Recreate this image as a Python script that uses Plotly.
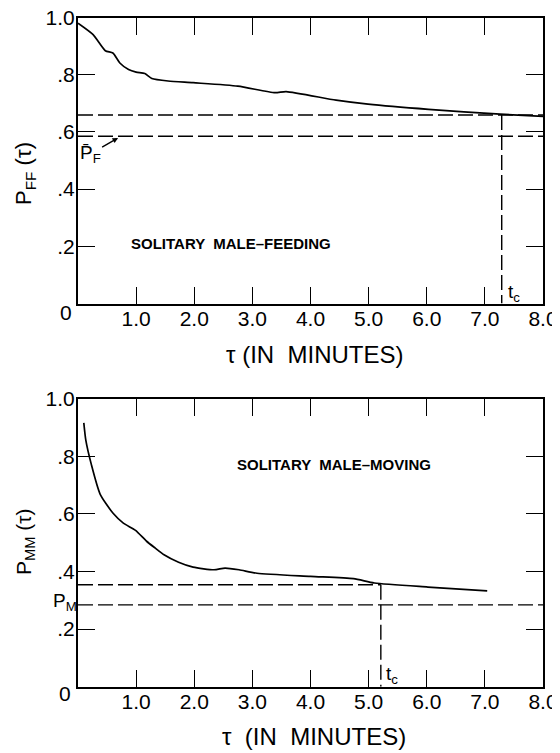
import plotly.graph_objects as go

# ---- data: top panel (solitary male - feeding) ----
ff_tau = [0.0, 0.26, 0.47, 0.6, 0.72, 0.87, 1.0, 1.15, 1.27, 1.55, 1.98, 2.75, 3.39, 3.58, 4.44, 4.99, 6.03, 7.26, 8.0]
ff_p = [0.98, 0.94, 0.884, 0.876, 0.841, 0.818, 0.809, 0.804, 0.787, 0.778, 0.772, 0.760, 0.737, 0.741, 0.711, 0.697, 0.679, 0.662, 0.654]
ff_level_tc = 0.659
ff_level_pbar = 0.585
ff_tc = 7.29

# ---- data: bottom panel (solitary male - moving) ----
mm_tau = [0.10, 0.135, 0.23, 0.38, 0.6, 0.78, 0.99, 1.18, 1.33, 1.48, 1.73, 1.98, 2.34, 2.53, 2.77, 3.08, 4.0, 4.74, 5.1, 6.02, 7.04]
mm_p = [0.916, 0.855, 0.771, 0.669, 0.603, 0.568, 0.543, 0.505, 0.481, 0.458, 0.432, 0.415, 0.406, 0.412, 0.406, 0.394, 0.383, 0.375, 0.360, 0.346, 0.333]
mm_level_tc = 0.354
mm_level_pbar = 0.284
mm_tc = 5.21

x_ticks = [1, 2, 3, 4, 5, 6, 7, 8]
x_labels = ["1.0", "2.0", "3.0", "4.0", "5.0", "6.0", "7.0", "8.0"]
y_ticks = [0.2, 0.4, 0.6, 0.8, 1.0]
y_labels = [".2", ".4", ".6", ".8", "1.0"]

OFF = 8  # default page body margin
W, H = 560 - OFF, 753 - OFF
FONT = "Liberation Sans"
DASH = "15px,5px"

def px_x(p):
    return (p - OFF) / W

def px_y(p):
    return 1 - (p - OFF) / H

fig = go.Figure()

CURVE = dict(color="black", width=1.7, shape="spline", smoothing=0.6)
DLINE = dict(color="black", width=1.4, dash=DASH)

# top panel
fig.add_trace(go.Scatter(x=ff_tau, y=ff_p, mode="lines", line=CURVE, xaxis="x", yaxis="y"))
fig.add_trace(go.Scatter(x=[0, 8], y=[ff_level_tc, ff_level_tc], mode="lines", line=DLINE, xaxis="x", yaxis="y"))
fig.add_trace(go.Scatter(x=[0, 8], y=[ff_level_pbar, ff_level_pbar], mode="lines", line=DLINE, xaxis="x", yaxis="y"))
fig.add_trace(go.Scatter(x=[ff_tc, ff_tc], y=[ff_level_tc, 0], mode="lines", line=DLINE, xaxis="x", yaxis="y"))

# bottom panel
fig.add_trace(go.Scatter(x=mm_tau, y=mm_p, mode="lines", line=CURVE, xaxis="x2", yaxis="y2"))
fig.add_trace(go.Scatter(x=[0, mm_tc], y=[mm_level_tc, mm_level_tc], mode="lines", line=DLINE, xaxis="x2", yaxis="y2"))
fig.add_trace(go.Scatter(x=[0, 8], y=[mm_level_pbar, mm_level_pbar], mode="lines", line=DLINE, xaxis="x2", yaxis="y2"))
fig.add_trace(go.Scatter(x=[mm_tc, mm_tc], y=[mm_level_tc, 0], mode="lines", line=DLINE, xaxis="x2", yaxis="y2"))

xdom = [px_x(78), px_x(543)]
common_x = dict(range=[0, 8], tickvals=x_ticks, ticktext=x_labels, ticks="inside", ticklen=17,
                tickwidth=1.4, tickcolor="black", showline=True, linecolor="black", linewidth=2,
                mirror="ticks", showgrid=False, zeroline=False, domain=xdom, automargin=False,
                ticklabelstandoff=-5, ticklabeloverflow="allow",
                tickfont=dict(family=FONT, size=21, color="black"))
common_y = dict(range=[0, 1.0], tickvals=y_ticks, ticktext=y_labels, ticks="inside", ticklen=17,
                tickwidth=1.4, tickcolor="black", showline=True, linecolor="black", linewidth=2,
                mirror="ticks", showgrid=False, zeroline=False, automargin=False,
                ticklabelstandoff=-3, ticklabeloverflow="allow",
                tickfont=dict(family=FONT, size=21, color="black"))

fig.update_layout(
    width=W, height=H, margin=dict(l=0, r=0, t=0, b=0, autoexpand=False),
    paper_bgcolor="white", plot_bgcolor="white", showlegend=False,
    xaxis=dict(common_x, anchor="y"),
    yaxis=dict(common_y, anchor="x", domain=[px_y(303.5), px_y(17.5)]),
    xaxis2=dict(common_x, anchor="y2"),
    yaxis2=dict(common_y, anchor="x2", domain=[px_y(686.7), px_y(398.7)]),
)

ann = []
tf = dict(family=FONT, size=21, color="black")
C = dict(xanchor="center", yanchor="middle")
# origin zeros
ann.append(dict(x=px_x(66), y=px_y(312), xref="paper", yref="paper", text="0", showarrow=False, font=tf, **C))
ann.append(dict(x=px_x(65), y=px_y(693), xref="paper", yref="paper", text="0", showarrow=False, font=tf, **C))
# x titles
ann.append(dict(x=px_x(314), y=px_y(354), xref="paper", yref="paper", text="τ (IN  MINUTES)", showarrow=False, font=dict(family=FONT, size=24, color="black"), **C))
ann.append(dict(x=px_x(314), y=px_y(736), xref="paper", yref="paper", text="τ  (IN  MINUTES)", showarrow=False, font=dict(family=FONT, size=24, color="black"), **C))
# y titles
ann.append(dict(x=px_x(25), y=px_y(174), xref="paper", yref="paper", text="P<sub>FF</sub> (τ)", textangle=-90, showarrow=False, font=dict(family=FONT, size=22, color="black"), **C))
ann.append(dict(x=px_x(25), y=px_y(542), xref="paper", yref="paper", text="P<sub>MM</sub> (τ)", textangle=-90, showarrow=False, font=dict(family=FONT, size=21, color="black"), **C))
# panel labels
ann.append(dict(x=2.63, y=0.21, xref="x", yref="y", text="<b>SOLITARY  MALE–FEEDING</b>", showarrow=False, font=dict(family=FONT, size=15, color="black"), **C))
ann.append(dict(x=4.41, y=0.771, xref="x2", yref="y2", text="<b>SOLITARY  MALE–MOVING</b>", showarrow=False, font=dict(family=FONT, size=15, color="black"), **C))
# t_c labels
ann.append(dict(x=7.5, y=0.035, xref="x", yref="y", text="t<sub>c</sub>", showarrow=False, font=dict(family=FONT, size=19, color="black"), **C))
ann.append(dict(x=5.4, y=0.04, xref="x2", yref="y2", text="t<sub>c</sub>", showarrow=False, font=dict(family=FONT, size=19, color="black"), **C))
# P-bar_F with arrow
ann.append(dict(x=0.69, y=ff_level_pbar - 0.006, xref="x", yref="y", text="P̄<sub>F</sub>", showarrow=True,
                arrowhead=2, arrowsize=0.8, arrowwidth=1.4, arrowcolor="black", ax=-28, ay=16,
                font=dict(family=FONT, size=19, color="black")))
# P_M
ann.append(dict(x=px_x(65), y=mm_level_pbar + 0.01, xref="paper", yref="y2", text="P<sub>M</sub>", showarrow=False, font=dict(family=FONT, size=19, color="black"), **C))

fig.update_layout(annotations=ann)
fig.write_html("out.html")
